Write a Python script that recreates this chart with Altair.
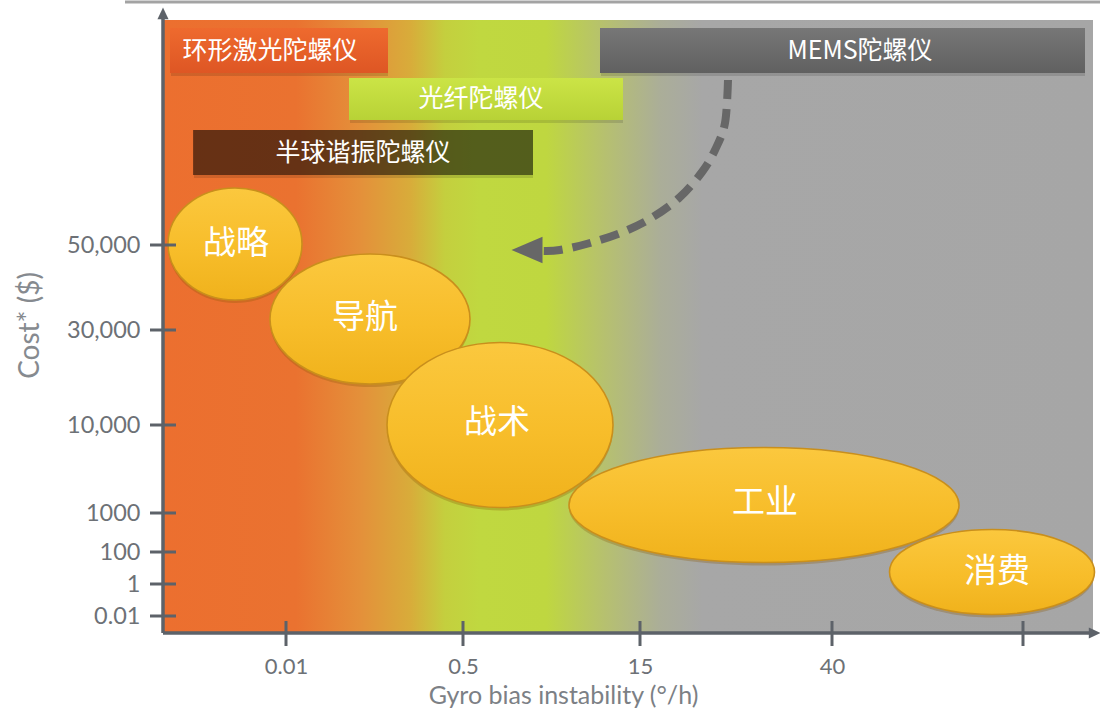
import altair as alt
import pandas as pd

# ---------------- data (positions are in axis units of the index scales) ----------------
X_TICKS = [123, 300, 477, 669, 860]
X_TICK_LABELS = ["0.01", "0.5", "15", "40", ""]
Y_TICKS = [388, 303, 208, 120, 81, 49, 17]
Y_TICK_LABELS = ["50,000", "30,000", "10,000", "1000", "100", "1", "0.01"]

SEG_NAMES = ["战略", "导航", "战术", "工业", "消费"]
SEG_CX = [72, 207, 337, 601, 829]
SEG_CY = [389, 314, 208, 128, 61]
SEG_W = [134, 200, 226, 390, 205]
SEG_H = [112, 130, 165, 115, 85]
SEG_LABEL_X = [73, 202, 334, 602, 834]
SEG_LABEL_Y = [389, 315, 210, 130, 61]

TECH_NAMES = ["环形激光陀螺仪", "MEMS陀螺仪", "光纤陀螺仪", "半球谐振陀螺仪"]
TECH_X0 = [7, 437, 186, 30]
TECH_X1 = [225, 922, 460, 370]
TECH_Y0 = [560, 560, 513, 458]
TECH_Y1 = [605, 605, 555, 503]
TECH_LABEL_X = [107, 697, 318, 200]

CURVE_X = [565, 562, 552, 539, 517, 490, 460, 427, 397, 380]
CURVE_Y = [553, 510, 483, 461, 436, 416, 401, 390, 383, 382]
HEAD_X = [364]
HEAD_Y = [383]

XMAX, YMAX = 930, 613

# ---------------- scales / axes ----------------
xs = alt.Scale(domain=[0, XMAX], nice=False, zero=False)
ys = alt.Scale(domain=[0, YMAX], nice=False, zero=False)


def tern(vals, labels):
    expr = "''"
    for v, l in reversed(list(zip(vals, labels))):
        expr = f"datum.value == {v} ? '{l}' : ({expr})"
    return expr


AX_FONT = "Lato"
x_axis = alt.Axis(values=X_TICKS, labelExpr=tern(X_TICKS, X_TICK_LABELS), ticks=False, tickSize=0,
                  domain=False, grid=False, labelPadding=23, labelFontSize=22, labelColor="#6D7176",
                  labelFont=AX_FONT, title="Gyro bias instability (°/h)", titleFont=AX_FONT,
                  titleFontSize=25, titleFontWeight="normal", titleColor="#7C8085",
                  titleX=400, titleY=62, titleBaseline="middle", titleAlign="center")
y_axis = alt.Axis(values=Y_TICKS, labelExpr=tern(Y_TICKS, Y_TICK_LABELS), ticks=False, tickSize=0,
                  domain=False, grid=False, labelPadding=23, labelFontSize=23.5, labelColor="#6D7176",
                  labelFont=AX_FONT, title="Cost* ($)", titleFont=AX_FONT, titleFontSize=28,
                  titleFontWeight="normal", titleColor="#868A8F", titleX=-133, titleY=305,
                  titleAngle=270, titleBaseline="middle", titleAlign="center")


def X(field):
    return alt.X(field, type="quantitative", scale=xs, axis=x_axis)


def Y(field):
    return alt.Y(field, type="quantitative", scale=ys, axis=y_axis)


# ---------------- background gradient ----------------
bg_stops = [(0.0, "#EC6F2F"), (0.143, "#EA7230"), (0.212, "#E4903A"), (0.266, "#D8AC3A"),
            (0.303, "#C4CF3E"), (0.34, "#C0D840"), (0.412, "#BFD740"), (0.476, "#B6C070"),
            (0.534, "#ABAE98"), (0.58, "#A7A7A7"), (1.0, "#A6A6A6")]
bg_grad = alt.Gradient(gradient="linear", x1=0, x2=1, y1=0, y2=0,
                       stops=[alt.GradientStop(offset=o, color=c) for o, c in bg_stops])

bg_df = pd.DataFrame({"x0": [0], "x1": [XMAX], "y0": [0], "y1": [YMAX]})
background = alt.Chart(bg_df).mark_rect(fill=bg_grad).encode(
    x=X("x0"), x2="x1", y=Y("y0"), y2="y1")

# ---------------- axes lines, ticks, arrows ----------------
AX_COL = "#5D6269"
axis_df = pd.DataFrame({"x0": [0, 0], "x1": [0, 928], "y0": [0, 0], "y1": [617, 0]})
axis_lines = alt.Chart(axis_df).mark_rule(color=AX_COL, strokeWidth=3.5).encode(
    x=X("x0"), x2="x1", y=Y("y0"), y2="y1")

xt_df = pd.DataFrame({"x": X_TICKS, "y0": [-13] * len(X_TICKS), "y1": [12] * len(X_TICKS)})
x_ticks = alt.Chart(xt_df).mark_rule(color=AX_COL, strokeWidth=3).encode(
    x=X("x"), y=Y("y0"), y2="y1")
yt_df = pd.DataFrame({"y": Y_TICKS, "x0": [-13] * len(Y_TICKS), "x1": [13] * len(Y_TICKS)})
y_ticks = alt.Chart(yt_df).mark_rule(color=AX_COL, strokeWidth=3).encode(
    y=Y("y"), x=X("x0"), x2="x1")

arrow_df = pd.DataFrame({"x": [0, 931], "y": [619, 0],
                         "shape": ["M 0 -1 L 0.85 0.8 L -0.85 0.8 Z", "M 1 0 L -0.8 -0.85 L -0.8 0.85 Z"]})
axis_arrows = alt.Chart(arrow_df).mark_point(filled=True, fill=AX_COL, opacity=1, size=170).encode(
    x=X("x"), y=Y("y"), shape=alt.Shape("shape:N", scale=None))

# ---------------- technology bars ----------------
tech_df = pd.DataFrame({"name": TECH_NAMES, "x0": TECH_X0, "x1": TECH_X1, "y0": TECH_Y0,
                        "y1": TECH_Y1, "lx": TECH_LABEL_X,
                        "ly": [(a + b) / 2 for a, b in zip(TECH_Y0, TECH_Y1)]})


def vgrad(top, bottom):
    return alt.Gradient(gradient="linear", x1=0, x2=0, y1=0, y2=1,
                        stops=[alt.GradientStop(offset=0, color=top),
                               alt.GradientStop(offset=1, color=bottom)])


bar_fills = {
    "环形激光陀螺仪": dict(fill=vgrad("#EE6A2E", "#DE5624")),
    "MEMS陀螺仪": dict(fill=vgrad("#777777", "#606060")),
    "光纤陀螺仪": dict(fill=vgrad("#CBE446", "#B8D236")),
    "半球谐振陀螺仪": dict(fill="#000000", fillOpacity=0.5),
}

bar_layers = []
for name in TECH_NAMES:
    base = alt.Chart(tech_df).transform_filter(alt.datum.name == name)
    enc = dict(x=X("x0"), x2="x1", y=Y("y0"), y2="y1")
    bar_layers.append(base.mark_rect(fill="#000000", fillOpacity=0.12, yOffset=3, xOffset=1).encode(**enc))
    bar_layers.append(base.mark_rect(**bar_fills[name]).encode(**enc))

tech_text = alt.Chart(tech_df).mark_text(font="Noto Sans CJK SC", fontSize=25, color="#FFFFFF",
                                         baseline="middle", align="center").encode(
    x=X("lx"), y=Y("ly"), text="name:N")

# ---------------- dashed curved arrow ----------------
curve_df = pd.DataFrame({"x": CURVE_X, "y": CURVE_Y, "i": list(range(len(CURVE_X)))})
curve = alt.Chart(curve_df).mark_line(color="#676767", strokeWidth=8, strokeDash=[19, 10],
                                      interpolate="cardinal", strokeCap="butt").encode(
    x=X("x"), y=Y("y"), order="i:Q")
head_df = pd.DataFrame({"x": HEAD_X, "y": HEAD_Y})
head = alt.Chart(head_df).mark_point(filled=True, fill="#676767", opacity=1, size=961,
                                     shape="M -1 0 L 1 -0.85 L 1 0.85 Z").encode(
    x=X("x"), y=Y("y"))

# ---------------- market-segment ellipses ----------------
K = 0.5523


def ellipse_path(w, h):
    a = h / w
    ka = K * a
    return (f"M 1 0 C 1 {ka:.4f} {K} {a:.4f} 0 {a:.4f} C {-K} {a:.4f} -1 {ka:.4f} -1 0 "
            f"C -1 {-ka:.4f} {-K} {-a:.4f} 0 {-a:.4f} C {K} {-a:.4f} 1 {-ka:.4f} 1 0 Z")


seg_df = pd.DataFrame({"name": SEG_NAMES, "cx": SEG_CX, "cy": SEG_CY,
                       "path": [ellipse_path(w, h) for w, h in zip(SEG_W, SEG_H)],
                       "size": [w * w for w in SEG_W],
                       "lx": SEG_LABEL_X, "ly": SEG_LABEL_Y})
ell_grad = alt.Gradient(gradient="linear", x1=0, x2=0, y1=0, y2=1,
                        stops=[alt.GradientStop(offset=0, color="#FBC83E"),
                               alt.GradientStop(offset=0.55, color="#F7BD2A"),
                               alt.GradientStop(offset=1, color="#F0B21C")])
seg_enc = dict(x=X("cx"), y=Y("cy"),
               shape=alt.Shape("path:N", scale=None), size=alt.Size("size:Q", scale=None))
ell_shadow = alt.Chart(seg_df).mark_point(filled=True, fill="#8A5A08", opacity=0.3, yOffset=3,
                                          strokeWidth=0).encode(**seg_enc)
ellipses = alt.Chart(seg_df).mark_point(filled=True, fill=ell_grad, opacity=1, stroke="#C98F1C",
                                        strokeWidth=1.6, strokeOpacity=1).encode(**seg_enc)
seg_text = alt.Chart(seg_df).mark_text(font="Noto Sans CJK SC", fontSize=33, color="#FFFFFF",
                                       baseline="middle", align="center").encode(
    x=X("lx"), y=Y("ly"), text="name:N")

# top slide border (decoration)
border = alt.Chart(bg_df).mark_rule(color="#A3A3A3", strokeWidth=3).encode(
    x=alt.value(-38), x2=alt.value(937), y=alt.value(-18))

chart = alt.layer(
    background, border, *bar_layers, tech_text, curve, head,
    ell_shadow, ellipses, seg_text,
    axis_lines, x_ticks, y_ticks, axis_arrows,
).properties(
    width=XMAX, height=YMAX,
    autosize=alt.AutoSizeParams(type="none"),
    padding={"left": 163, "top": 20, "right": 7, "bottom": 79},
    background="white",
).configure_view(stroke=None)

chart.save("out.html", embed_options={"renderer": "svg", "actions": False})
